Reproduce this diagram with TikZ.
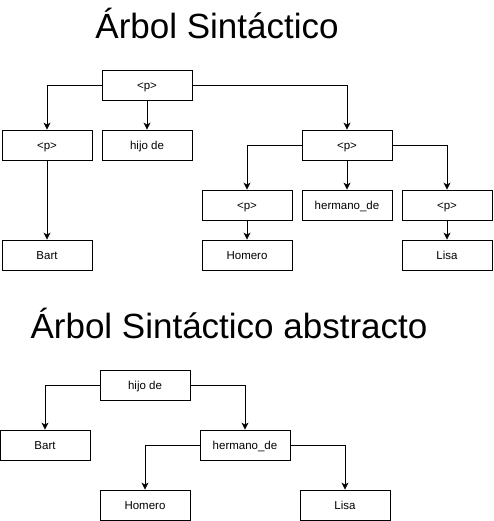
\documentclass[tikz,border=0pt]{standalone}
\usepackage{fontspec}
\setmainfont{Liberation Sans}
\usetikzlibrary{arrows.meta}
\begin{document}
\begin{tikzpicture}[x=1pt,y=-1pt,
  box/.style={draw,line width=0.8pt,minimum width=90pt,minimum height=30pt,inner sep=0pt,text height=10.5pt,text depth=2.3pt,font=\fontsize{11.5pt}{13pt}\selectfont},
  title/.style={anchor=base,inner sep=0pt,font=\fontsize{35pt}{40pt}\selectfont},
  conn/.style={line width=0.8pt,-{Stealth[length=7pt,width=7pt,inset=2pt]}}]
\useasboundingbox (0,0) rectangle (493,521);
\node[title] (t1) at (217,39) {Árbol Sintáctico};
\node[title] (t2) at (229,338) {Árbol Sintáctico abstracto};
% top tree
\node[box] (r) at (147,85) {<p>};
\node[box] (pl) at (47,145) {<p>};
\node[box] (hd) at (147,145) {hijo de};
\node[box] (pr) at (347,145) {<p>};
\node[box] (p2) at (247,205) {<p>};
\node[box] (hm) at (347,205) {hermano\_de};
\node[box] (p3) at (447,205) {<p>};
\node[box] (b1) at (47,255) {Bart};
\node[box] (h1) at (247,255) {Homero};
\node[box] (l1) at (447,255) {Lisa};
\draw[conn] (r.west) -| (pl.north);
\draw[conn] (r.south) -- (hd.north);
\draw[conn] (r.east) -| (pr.north);
\draw[conn] (pl.south) -- (b1.north);
\draw[conn] (pr.west) -| (p2.north);
\draw[conn] (pr.south) -- (hm.north);
\draw[conn] (pr.east) -| (p3.north);
\draw[conn] (p2.south) -- (h1.north);
\draw[conn] (p3.south) -- (l1.north);
% bottom tree
\node[box] (a1) at (145,385) {hijo de};
\node[box] (a2) at (45,445) {Bart};
\node[box] (a3) at (245,445) {hermano\_de};
\node[box] (a4) at (145,505) {Homero};
\node[box] (a5) at (345,505) {Lisa};
\draw[conn] (a1.west) -| (a2.north);
\draw[conn] (a1.east) -| (a3.north);
\draw[conn] (a3.west) -| (a4.north);
\draw[conn] (a3.east) -| (a5.north);
\end{tikzpicture}
\end{document}
